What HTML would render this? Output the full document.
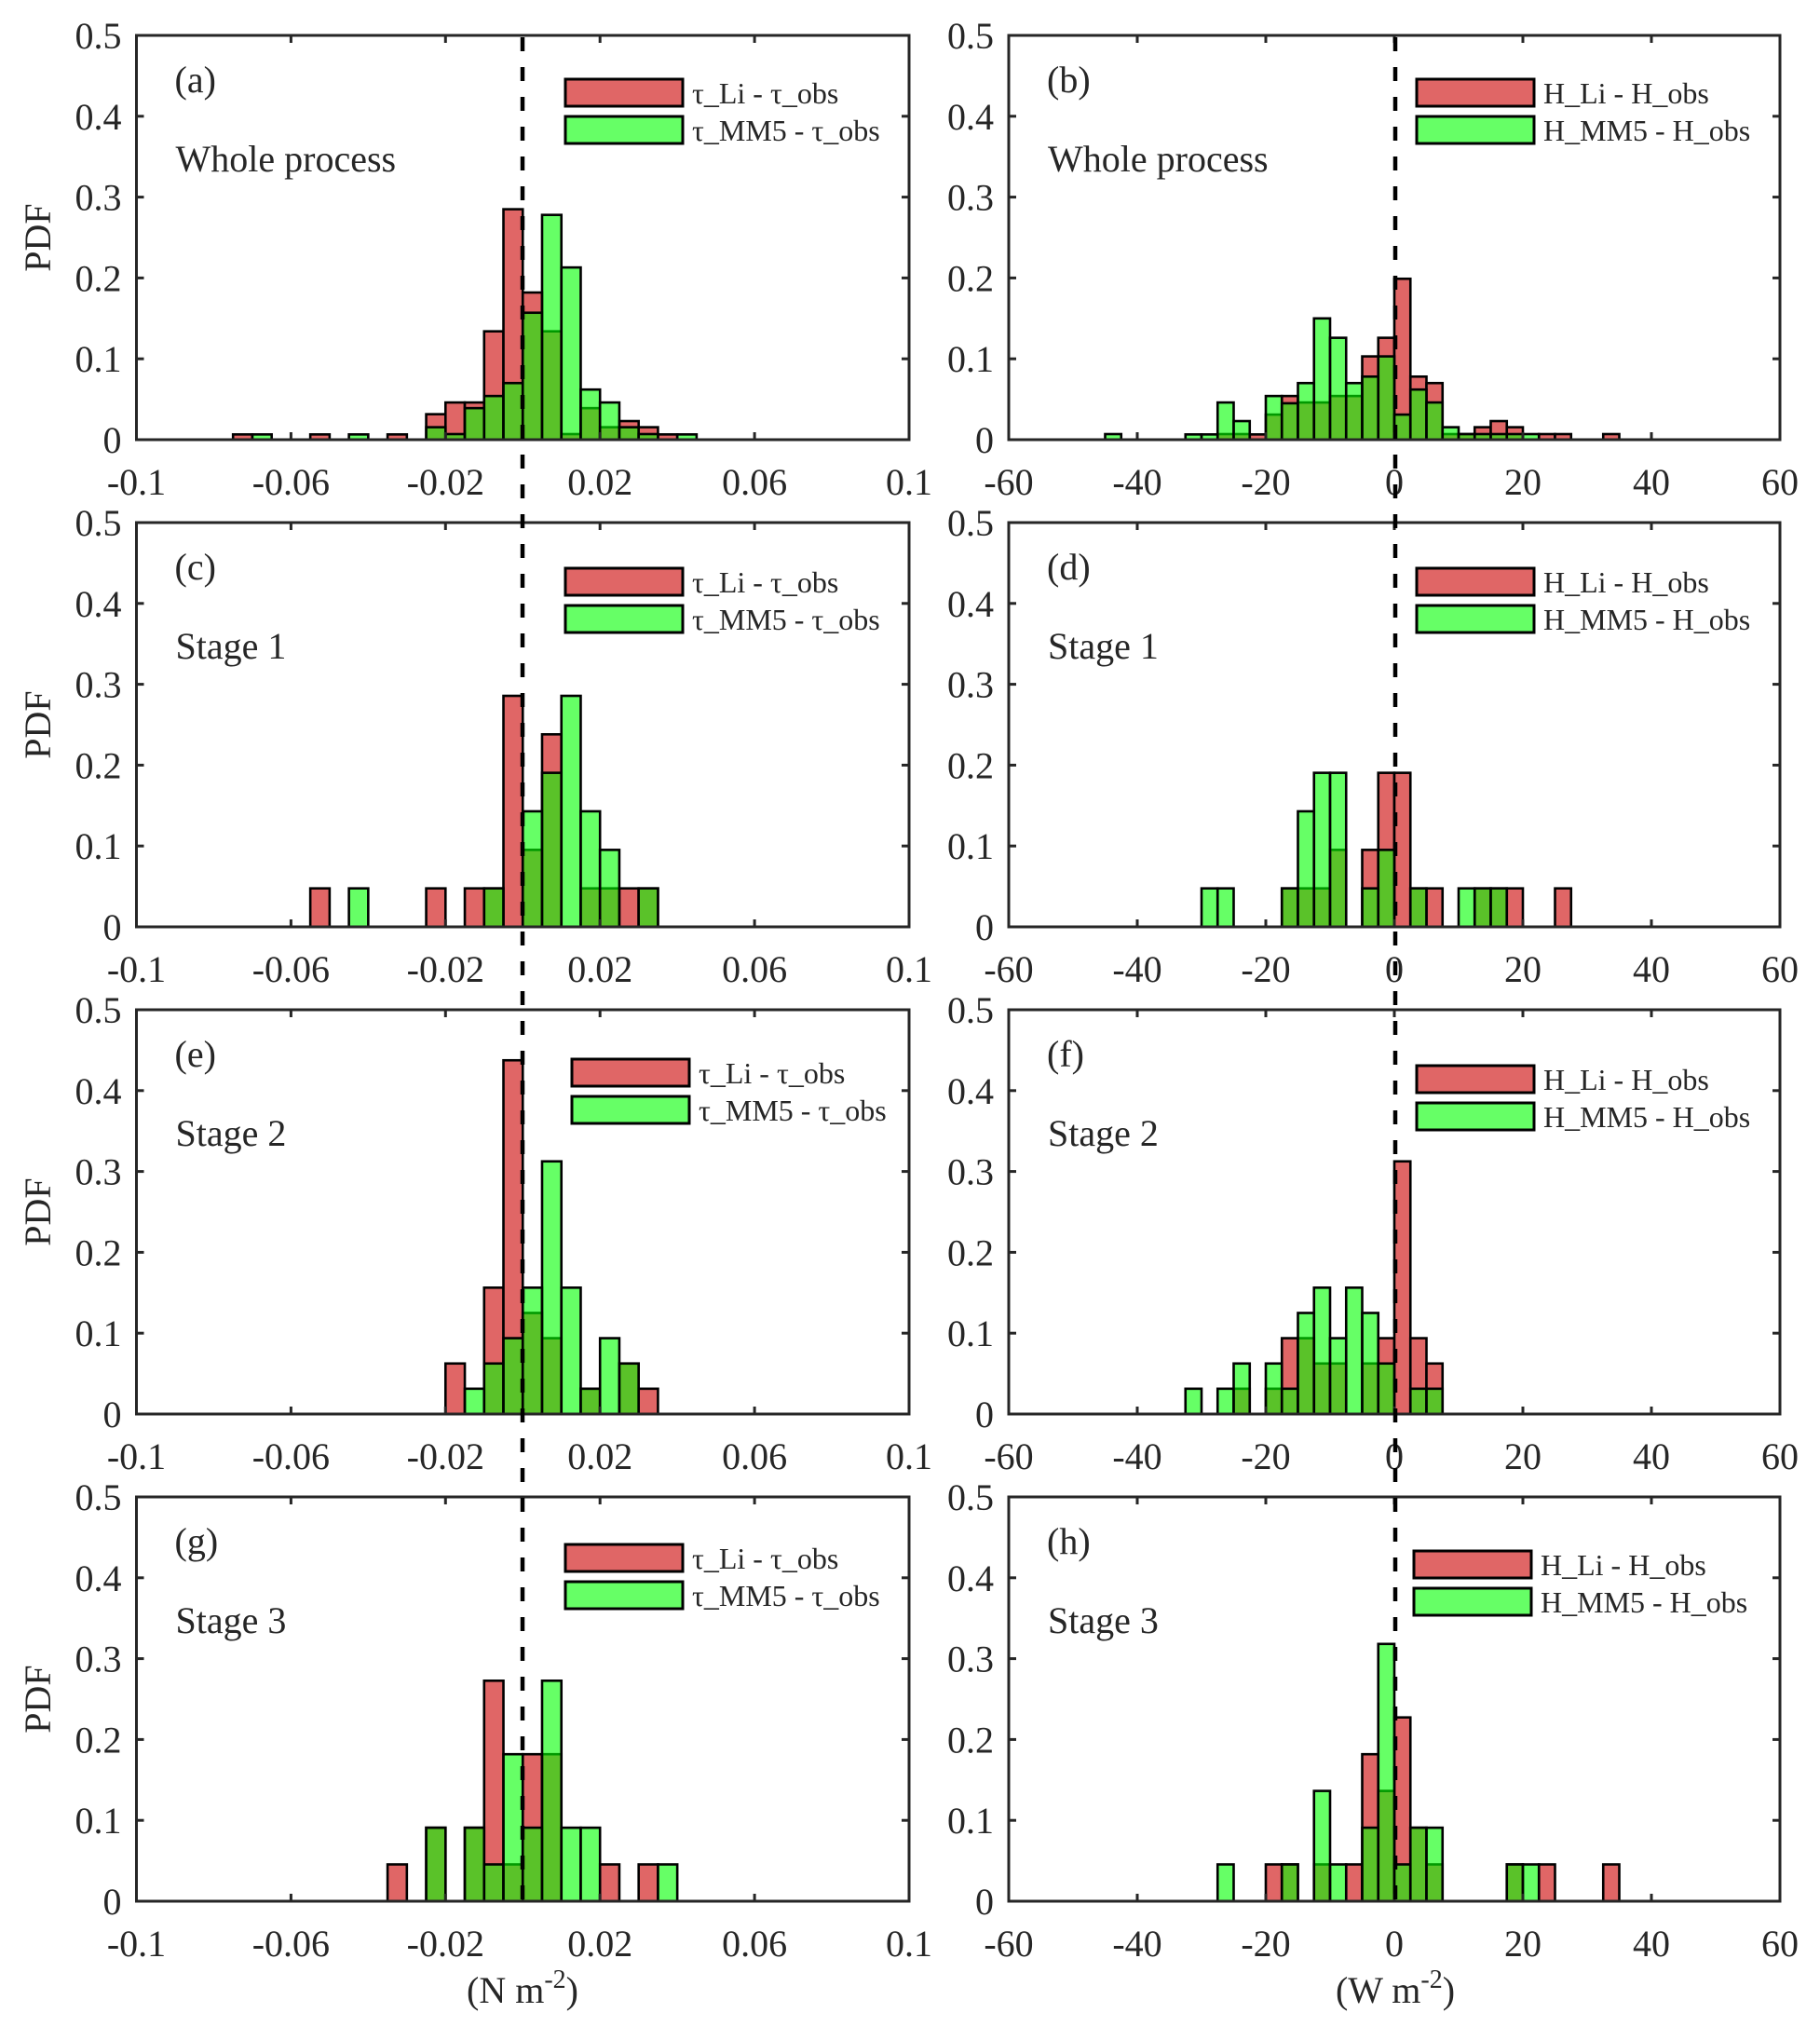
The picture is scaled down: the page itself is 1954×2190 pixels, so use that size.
<!DOCTYPE html>
<html><head><meta charset="utf-8"><style>
html,body{margin:0;padding:0;background:#fff}
svg{display:block}
text{font-family:"Liberation Serif","DejaVu Serif",serif;fill:#262626}
</style></head><body>
<svg id="fig" xmlns="http://www.w3.org/2000/svg" width="1954" height="2190" viewBox="0 0 1954 2190"></svg>
<script>
// ---- data (bin indices k; bin left edge = k * binWidth) ----
var yTicks = [0, 0.1, 0.2, 0.3, 0.4, 0.5];
var yTickLabels = ["0", "0.1", "0.2", "0.3", "0.4", "0.5"];
var xTicksTau = [-0.1, -0.06, -0.02, 0.02, 0.06, 0.1];
var xTickLabelsTau = ["-0.1", "-0.06", "-0.02", "0.02", "0.06", "0.1"];
var xTicksH = [-60, -40, -20, 0, 20, 40, 60];
var xTickLabelsH = ["-60", "-40", "-20", "0", "20", "40", "60"];
var binWidthTau = 0.005;
var binWidthH = 2.5;

var aRedK = [-15, -11, -7, -5, -4, -3, -2, -1, 0, 1, 2, 3, 4, 5, 6, 7];
var aRedV = [0.0065, 0.0065, 0.0065, 0.0315, 0.046, 0.046, 0.134, 0.285, 0.182, 0.134, 0.0069, 0.039, 0.0154, 0.023, 0.0154, 0.0065];
var aGrnK = [-14, -9, -5, -4, -3, -2, -1, 0, 1, 2, 3, 4, 5, 6, 8];
var aGrnV = [0.0065, 0.0065, 0.0154, 0.0069, 0.039, 0.054, 0.070, 0.157, 0.278, 0.213, 0.062, 0.046, 0.0154, 0.0069, 0.0065];

var bRedK = [-11, -10, -9, -8, -7, -6, -5, -4, -3, -2, -1, 0, 1, 2, 3, 4, 5, 6, 7, 9, 10, 13];
var bRedV = [0.0069, 0.0069, 0.0065, 0.031, 0.054, 0.046, 0.046, 0.054, 0.054, 0.103, 0.126, 0.199, 0.078, 0.070, 0.0069, 0.0069, 0.0154, 0.023, 0.0154, 0.0069, 0.0069, 0.0069];
var bGrnK = [-18, -13, -12, -11, -10, -8, -7, -6, -5, -4, -3, -2, -1, 0, 1, 2, 3, 4, 5, 6, 7, 8];
var bGrnV = [0.0069, 0.0065, 0.0065, 0.046, 0.023, 0.054, 0.045, 0.070, 0.150, 0.126, 0.070, 0.078, 0.103, 0.031, 0.062, 0.046, 0.0154, 0.0069, 0.0069, 0.0069, 0.0069, 0.0069];

var cRedK = [-11, -5, -3, -2, -1, 0, 1, 3, 4, 5, 6];
var cRedV = [0.0476, 0.0476, 0.0476, 0.0476, 0.2857, 0.0952, 0.2381, 0.0476, 0.0476, 0.0476, 0.0476];
var cGrnK = [-9, -2, 0, 1, 2, 3, 4, 6];
var cGrnV = [0.0476, 0.0476, 0.1429, 0.1905, 0.2857, 0.1429, 0.0952, 0.0476];

var dRedK = [-7, -6, -5, -4, -2, -1, 0, 1, 2, 5, 6, 7, 10];
var dRedV = [0.0476, 0.0476, 0.0476, 0.0952, 0.0952, 0.1905, 0.1905, 0.0476, 0.0476, 0.0476, 0.0476, 0.0476, 0.0476];
var dGrnK = [-12, -11, -7, -6, -5, -4, -2, -1, 1, 4, 5, 6];
var dGrnV = [0.0476, 0.0476, 0.0476, 0.1429, 0.1905, 0.1905, 0.0476, 0.0952, 0.0476, 0.0476, 0.0476, 0.0476];

var eRedK = [-4, -2, -1, 0, 1, 3, 5, 6];
var eRedV = [0.0625, 0.1563, 0.4375, 0.125, 0.0938, 0.0313, 0.0625, 0.0313];
var eGrnK = [-3, -2, -1, 0, 1, 2, 3, 4, 5];
var eGrnV = [0.0313, 0.0625, 0.0938, 0.1563, 0.3125, 0.1563, 0.0313, 0.0938, 0.0625];

var fRedK = [-10, -8, -7, -6, -5, -4, -2, -1, 0, 1, 2];
var fRedV = [0.0313, 0.0313, 0.0938, 0.0938, 0.0625, 0.0625, 0.0625, 0.0938, 0.3125, 0.0938, 0.0625];
var fGrnK = [-13, -11, -10, -8, -7, -6, -5, -4, -3, -2, -1, 1, 2];
var fGrnV = [0.0313, 0.0313, 0.0625, 0.0625, 0.0313, 0.125, 0.1563, 0.0938, 0.1563, 0.125, 0.0625, 0.0313, 0.0313];

var gRedK = [-7, -5, -3, -2, -1, 0, 1, 4, 6];
var gRedV = [0.0455, 0.0909, 0.0909, 0.2727, 0.0455, 0.1818, 0.1818, 0.0455, 0.0455];
var gGrnK = [-5, -3, -2, -1, 0, 1, 2, 3, 7];
var gGrnV = [0.0909, 0.0909, 0.0455, 0.1818, 0.0909, 0.2727, 0.0909, 0.0909, 0.0455];

var hRedK = [-8, -7, -5, -3, -2, -1, 0, 1, 2, 7, 9, 13];
var hRedV = [0.0455, 0.0455, 0.0455, 0.0455, 0.1818, 0.1364, 0.2273, 0.0909, 0.0455, 0.0455, 0.0455, 0.0455];
var hGrnK = [-11, -7, -5, -4, -2, -1, 0, 1, 2, 7, 8];
var hGrnV = [0.0455, 0.0455, 0.1364, 0.0455, 0.0909, 0.3182, 0.0455, 0.0909, 0.0909, 0.0455, 0.0455];

var panelLetters = ["(a)", "(b)", "(c)", "(d)", "(e)", "(f)", "(g)", "(h)"];
var stageNames = ["Whole process", "Whole process", "Stage 1", "Stage 1", "Stage 2", "Stage 2", "Stage 3", "Stage 3"];
var legendTau = ["τ_Li - τ_obs", "τ_MM5 - τ_obs"];
var legendH = ["H_Li - H_obs", "H_MM5 - H_obs"];

// ---- layout ----
var NS = "http://www.w3.org/2000/svg";
var svg = document.getElementById("fig");
var rowTops = [38, 561, 1084, 1607];
var plotH = 434;
var colX = [[146.5, 976], [1083, 1911]];
var legendDY = [47, 47, 49, 49, 53, 60, 51, 58];
var legendX = [607, 1521, 607, 1521, 614, 1521, 607, 1518];
var panels = [
  [aRedK, aRedV, aGrnK, aGrnV], [bRedK, bRedV, bGrnK, bGrnV],
  [cRedK, cRedV, cGrnK, cGrnV], [dRedK, dRedV, dGrnK, dGrnV],
  [eRedK, eRedV, eGrnK, eGrnV], [fRedK, fRedV, fGrnK, fGrnV],
  [gRedK, gRedV, gGrnK, gGrnV], [hRedK, hRedV, hGrnK, hGrnV]
];

function mk(tag, attrs, parent) {
  var e = document.createElementNS(NS, tag);
  for (var k in attrs) e.setAttribute(k, attrs[k]);
  (parent || svg).appendChild(e);
  return e;
}

function drawPanel(p) {
  var col = p % 2, row = Math.floor(p / 2);
  var x0 = colX[col][0], x1 = colX[col][1];
  var pTop = rowTops[row], pBot = pTop + plotH;
  var xmin = col === 0 ? -0.1 : -60, xmax = col === 0 ? 0.1 : 60;
  var bw = col === 0 ? binWidthTau : binWidthH;
  function xs(v) { return x0 + (v - xmin) / (xmax - xmin) * (x1 - x0); }
  function ys(v) { return pBot - v / 0.5 * (pBot - pTop); }

  var g = mk("g", {});
  
  

  var d = panels[p];
  var series = [[d[0], d[1], "#e06666", 1, "red"], [d[2], d[3], "rgb(0,255,0)", 0.6, "green"]];
  for (var s = 0; s < 2; s++) {
    var ks = series[s][0], vs = series[s][1];
    for (var i = 0; i < ks.length; i++) {
      var xa = xs(ks[i] * bw), xb = xs((ks[i] + 1) * bw);
      var r = mk("rect", {x: xa, y: ys(vs[i]), width: xb - xa, height: ys(0) - ys(vs[i]),
        fill: series[s][2], "fill-opacity": series[s][3], stroke: "#000", "stroke-width": 2.6}, g);
      
      
    }
  }

  var fr = mk("rect", {x: x0, y: pTop, width: x1 - x0, height: plotH, fill: "none", stroke: "#262626", "stroke-width": 3}, g);
  
  

  for (var i = 0; i < yTicks.length; i++) {
    var yy = ys(yTicks[i]);
    mk("line", {x1: x0, x2: x0 + 8, y1: yy, y2: yy, stroke: "#262626", "stroke-width": 3}, g);
    mk("line", {x1: x1, x2: x1 - 8, y1: yy, y2: yy, stroke: "#262626", "stroke-width": 3}, g);
    var t = mk("text", {x: x0 - 16, y: yy + 14, "text-anchor": "end", "font-size": 40}, g);
    t.textContent = yTickLabels[i];
    
    
  }
  var xt = col === 0 ? xTicksTau : xTicksH, xl = col === 0 ? xTickLabelsTau : xTickLabelsH;
  for (var i = 0; i < xt.length; i++) {
    var xx = xs(xt[i]);
    mk("line", {x1: xx, x2: xx, y1: pBot, y2: pBot - 8, stroke: "#262626", "stroke-width": 3}, g);
    mk("line", {x1: xx, x2: xx, y1: pTop, y2: pTop + 8, stroke: "#262626", "stroke-width": 3}, g);
    var t = mk("text", {x: xx, y: pBot + 59, "text-anchor": "middle", "font-size": 40}, g);
    t.textContent = xl[i];
    
    
  }

  var t1 = mk("text", {x: x0 + 41, y: pTop + 61, "font-size": 40}, g);
  t1.textContent = panelLetters[p];
  
  
  var t2 = mk("text", {x: x0 + 42, y: pTop + 146, "font-size": 40}, g);
  t2.textContent = stageNames[p];
  
  

  var lg = mk("g", {}, g);
  
  
  var labs = col === 0 ? legendTau : legendH;
  var lx = legendX[p], ly = pTop + legendDY[p];
  var fills = [["#e06666", 1], ["rgb(0,255,0)", 0.6]];
  for (var i = 0; i < 2; i++) {
    var sw = mk("rect", {x: lx, y: ly + i * 40, width: 126, height: 29, fill: fills[i][0], "fill-opacity": fills[i][1], stroke: "#000", "stroke-width": 3}, lg);
    
    
    var lt = mk("text", {x: lx + 136, y: ly + i * 40 + 26, "font-size": 32}, lg);
    lt.textContent = labs[i];
    
    
  }

  if (col === 0) {
    var cy = (pTop + pBot) / 2;
    var yl = mk("text", {x: 54, y: cy, "text-anchor": "middle", "font-size": 40, transform: "rotate(-90 54 " + cy + ")"}, g);
    yl.textContent = "PDF";
    
    
  }
}

for (var p = 0; p < 8; p++) drawPanel(p);

var zx = [561, 1498];
for (var c = 0; c < 2; c++) {
  var dl = mk("line", {x1: zx[c], x2: zx[c], y1: 40, y2: 2044, stroke: "#000", "stroke-width": 4.5, "stroke-dasharray": "15 17"});
  
  
}

var units = [[561, "(N m", "-2", ")"], [1498, "(W m", "-2", ")"]];
for (var c = 0; c < 2; c++) {
  var ut = mk("text", {x: units[c][0], y: 2150, "text-anchor": "middle", "font-size": 40});
  
  
  ut.appendChild(document.createTextNode(units[c][1]));
  var sup = mk("tspan", {dy: -16, "font-size": 28}, ut);
  sup.textContent = units[c][2];
  var cl = mk("tspan", {dy: 16}, ut);
  cl.textContent = units[c][3];
}
</script>
</body></html>
